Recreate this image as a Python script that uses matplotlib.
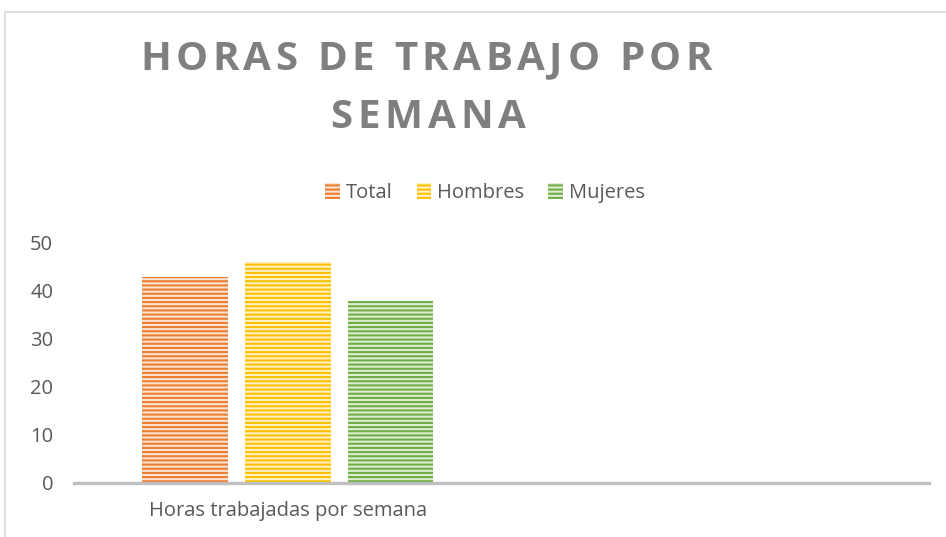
import matplotlib
matplotlib.use("Agg")
import matplotlib.pyplot as plt
from matplotlib.patches import Rectangle
from matplotlib.font_manager import FontProperties, findfont, get_font

# datos
categorias = ["Horas trabajadas por semana", ""]
series     = ["Total", "Hombres", "Mujeres"]
valores    = [43, 46, 38]
titulo     = ["HORAS DE TRABAJO POR", "SEMANA"]
yticks     = [0, 10, 20, 30, 40, 50]

colores = ["#ED7D31", "#FFC000", "#70AD47"]
claros  = ["#FBE3D3", "#FFF1C6", "#DDEED2"]
gris    = "#595959"

plt.rcParams['font.family'] = ['Open Sans', 'DejaVu Sans']
plt.rcParams['hatch.linewidth'] = 1.5

fig = plt.figure(figsize=(9.46, 5.37), dpi=100)
W, H = 946, 537

# marco del grafico
fig.patches.append(Rectangle((5 / W, -0.05), 1.2, 1 - 12 / H + 0.05,
                             transform=fig.transFigure, fill=False,
                             edgecolor="#D9D9D9", linewidth=1.2))

ax = fig.add_axes([74 / W, 1 - 483 / H, (929 - 74) / W, (483 - 243) / H])

ancho = 0.2
desp  = [-0.24, 0.0, 0.24]
for i, (s, v) in enumerate(zip(series, valores)):
    ax.bar(0 + desp[i], v, width=ancho, color=claros[i], edgecolor=colores[i],
           hatch="----", linewidth=0, label=s, zorder=2)

ax.set_xlim(-0.5, 1.5)
ax.set_ylim(0, 50)
ax.set_yticks(yticks)
ax.set_xticks(range(len(categorias)))
ax.set_xticklabels(categorias)
for sp in ["top", "right", "left"]:
    ax.spines[sp].set_visible(False)
ax.spines["bottom"].set_color("#BFBFBF")
ax.spines["bottom"].set_linewidth(2.4)
ax.spines["bottom"].set_zorder(3)
ax.tick_params(axis="y", length=0, pad=15, labelsize=14.5, labelcolor=gris)
ax.tick_params(axis="x", length=0, pad=13, labelsize=14.5, labelcolor=gris)

# leyenda
handles = [Rectangle((0, 0), 1, 1, facecolor=claros[i], edgecolor=colores[i],
                     hatch="----", linewidth=0) for i in range(3)]
fig.legend(handles, series, loc="center", bbox_to_anchor=(485 / W, 1 - 193 / H),
           ncol=3, frameon=False, fontsize=14.5, labelcolor=gris,
           handlelength=0.72, handleheight=0.85, handletextpad=0.3,
           columnspacing=1.2)


# titulo con espaciado entre letras
def texto_espaciado(s, x0, x1, y, size):
    prop = FontProperties(family="Open Sans", weight="bold", size=size)
    font = get_font(findfont(prop))
    font.set_size(size, 100)
    avances = []
    for c in s:
        g = font.load_char(ord(c))
        avances.append(g.linearHoriAdvance / 65536)
    extra = ((x1 - x0) - sum(avances)) / (len(s) - 1)
    x = x0
    for c, a in zip(s, avances):
        fig.text(x / W, 1 - y / H, c, fontproperties=prop, color="#7F7F7F",
                 ha="left", va="baseline")
        x += a + extra


texto_espaciado(titulo[0], 140, 712, 70, 29)
texto_espaciado(titulo[1], 330, 526, 128, 29)

fig.savefig("out.png", dpi=100)
